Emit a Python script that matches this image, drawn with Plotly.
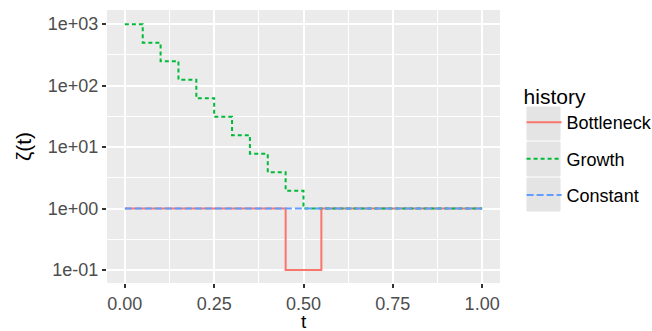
import plotly.graph_objects as go

# ---- data ----
series_names = ["Bottleneck", "Growth", "Constant"]
bottleneck_t = [0.0, 0.45, 0.55, 1.0]
bottleneck_z = [1.0, 0.1, 1.0, 1.0]
growth_t = [0.0, 0.05, 0.10, 0.15, 0.20, 0.25, 0.30, 0.35, 0.40, 0.45, 0.50, 1.0]
growth_z = [1000, 500, 250, 125, 62.5, 31.25, 15.6, 7.8, 3.9, 1.95, 1.0, 1.0]
constant_t = [0.0, 1.0]
constant_z = [1.0, 1.0]

x_tickvals = [0.0, 0.25, 0.5, 0.75, 1.0]
x_ticktext = ["0.00", "0.25", "0.50", "0.75", "1.00"]
y_tickvals = [0.1, 1, 10, 100, 1000]
y_ticktext = ["1e-01", "1e+00", "1e+01", "1e+02", "1e+03"]
y_minorvals = [0.316, 3.16, 31.6, 316]
x_title = "t"
y_title = "ζ(t)"

colors = ["#F8766D", "#00BA38", "#619CFF"]
dashes = ["solid", "4px,3px", "7px,3px"]

FONT = "Liberation Sans, Arial, sans-serif"

fig = go.Figure()
for name, tt, zz, c, d in zip(series_names,
                              [bottleneck_t, growth_t, constant_t],
                              [bottleneck_z, growth_z, constant_z],
                              colors, dashes):
    fig.add_trace(go.Scatter(x=tt, y=zz, mode="lines", name=name,
                             line=dict(color=c, width=2, dash=d, shape="hv"),
                             legendgroup=name))

fig.update_layout(
    width=652, height=331,
    margin=dict(l=107, r=152, t=10, b=48, autoexpand=False),
    paper_bgcolor="white",
    plot_bgcolor="#EBEBEB",
    font=dict(family=FONT, color="#4D4D4D", size=18),
    showlegend=True,
    legend=dict(
        title=dict(text="history", font=dict(size=21, color="black")),
        font=dict(size=18, color="black"),
        xref="container", yref="container",
        x=0.800, y=0.768, xanchor="left", yanchor="top",
        tracegroupgap=10,
        bgcolor="rgba(0,0,0,0)",
        itemwidth=35,
    ),
    xaxis=dict(
        range=[-0.05, 1.05],
        tickvals=x_tickvals, ticktext=x_ticktext,
        showgrid=True, gridcolor="white", gridwidth=1.5,
        minor=dict(dtick=0.125, tick0=0.125, showgrid=True, gridcolor="white", gridwidth=0.7),
        ticks="outside", ticklen=4, tickwidth=1.5, tickcolor="#333333",
        zeroline=False, showline=False, automargin=False,
        tickfont=dict(size=18, color="#4D4D4D"),
    ),
    yaxis=dict(
        type="log",
        range=[-1.21, 3.23],
        tickvals=y_tickvals, ticktext=y_ticktext,
        showgrid=True, gridcolor="white", gridwidth=1.5,
        minor=dict(tickmode="array", tickvals=y_minorvals, showgrid=True,
                   gridcolor="white", gridwidth=0.7, ticks=""),
        ticks="outside", ticklen=4, tickwidth=1.5, tickcolor="#333333",
        zeroline=False, showline=False, automargin=False,
        tickfont=dict(size=18, color="#4D4D4D"),
        title=dict(text=y_title, font=dict(size=21, color="black"), standoff=10),
    ),
)

# legend key backgrounds (ggplot style grey boxes), paper coordinates
key_boxes = [(0.5238, 0.6447), (0.3919, 0.5165), (0.2637, 0.3846)]
for y0, y1 in key_boxes:
    fig.add_shape(type="rect", xref="paper", yref="paper",
                  x0=1.0687, x1=1.1527, y0=y0, y1=y1,
                  fillcolor="rgb(228,228,228)", opacity=1,
                  line=dict(width=1, color="rgb(228,228,228)"), layer="above")

fig.add_annotation(text=x_title, xref="paper", yref="paper", x=0.5, y=-0.142,
                   xanchor="center", yanchor="middle", showarrow=False,
                   font=dict(size=19, color="black", family=FONT))

fig.write_html("out.html")
